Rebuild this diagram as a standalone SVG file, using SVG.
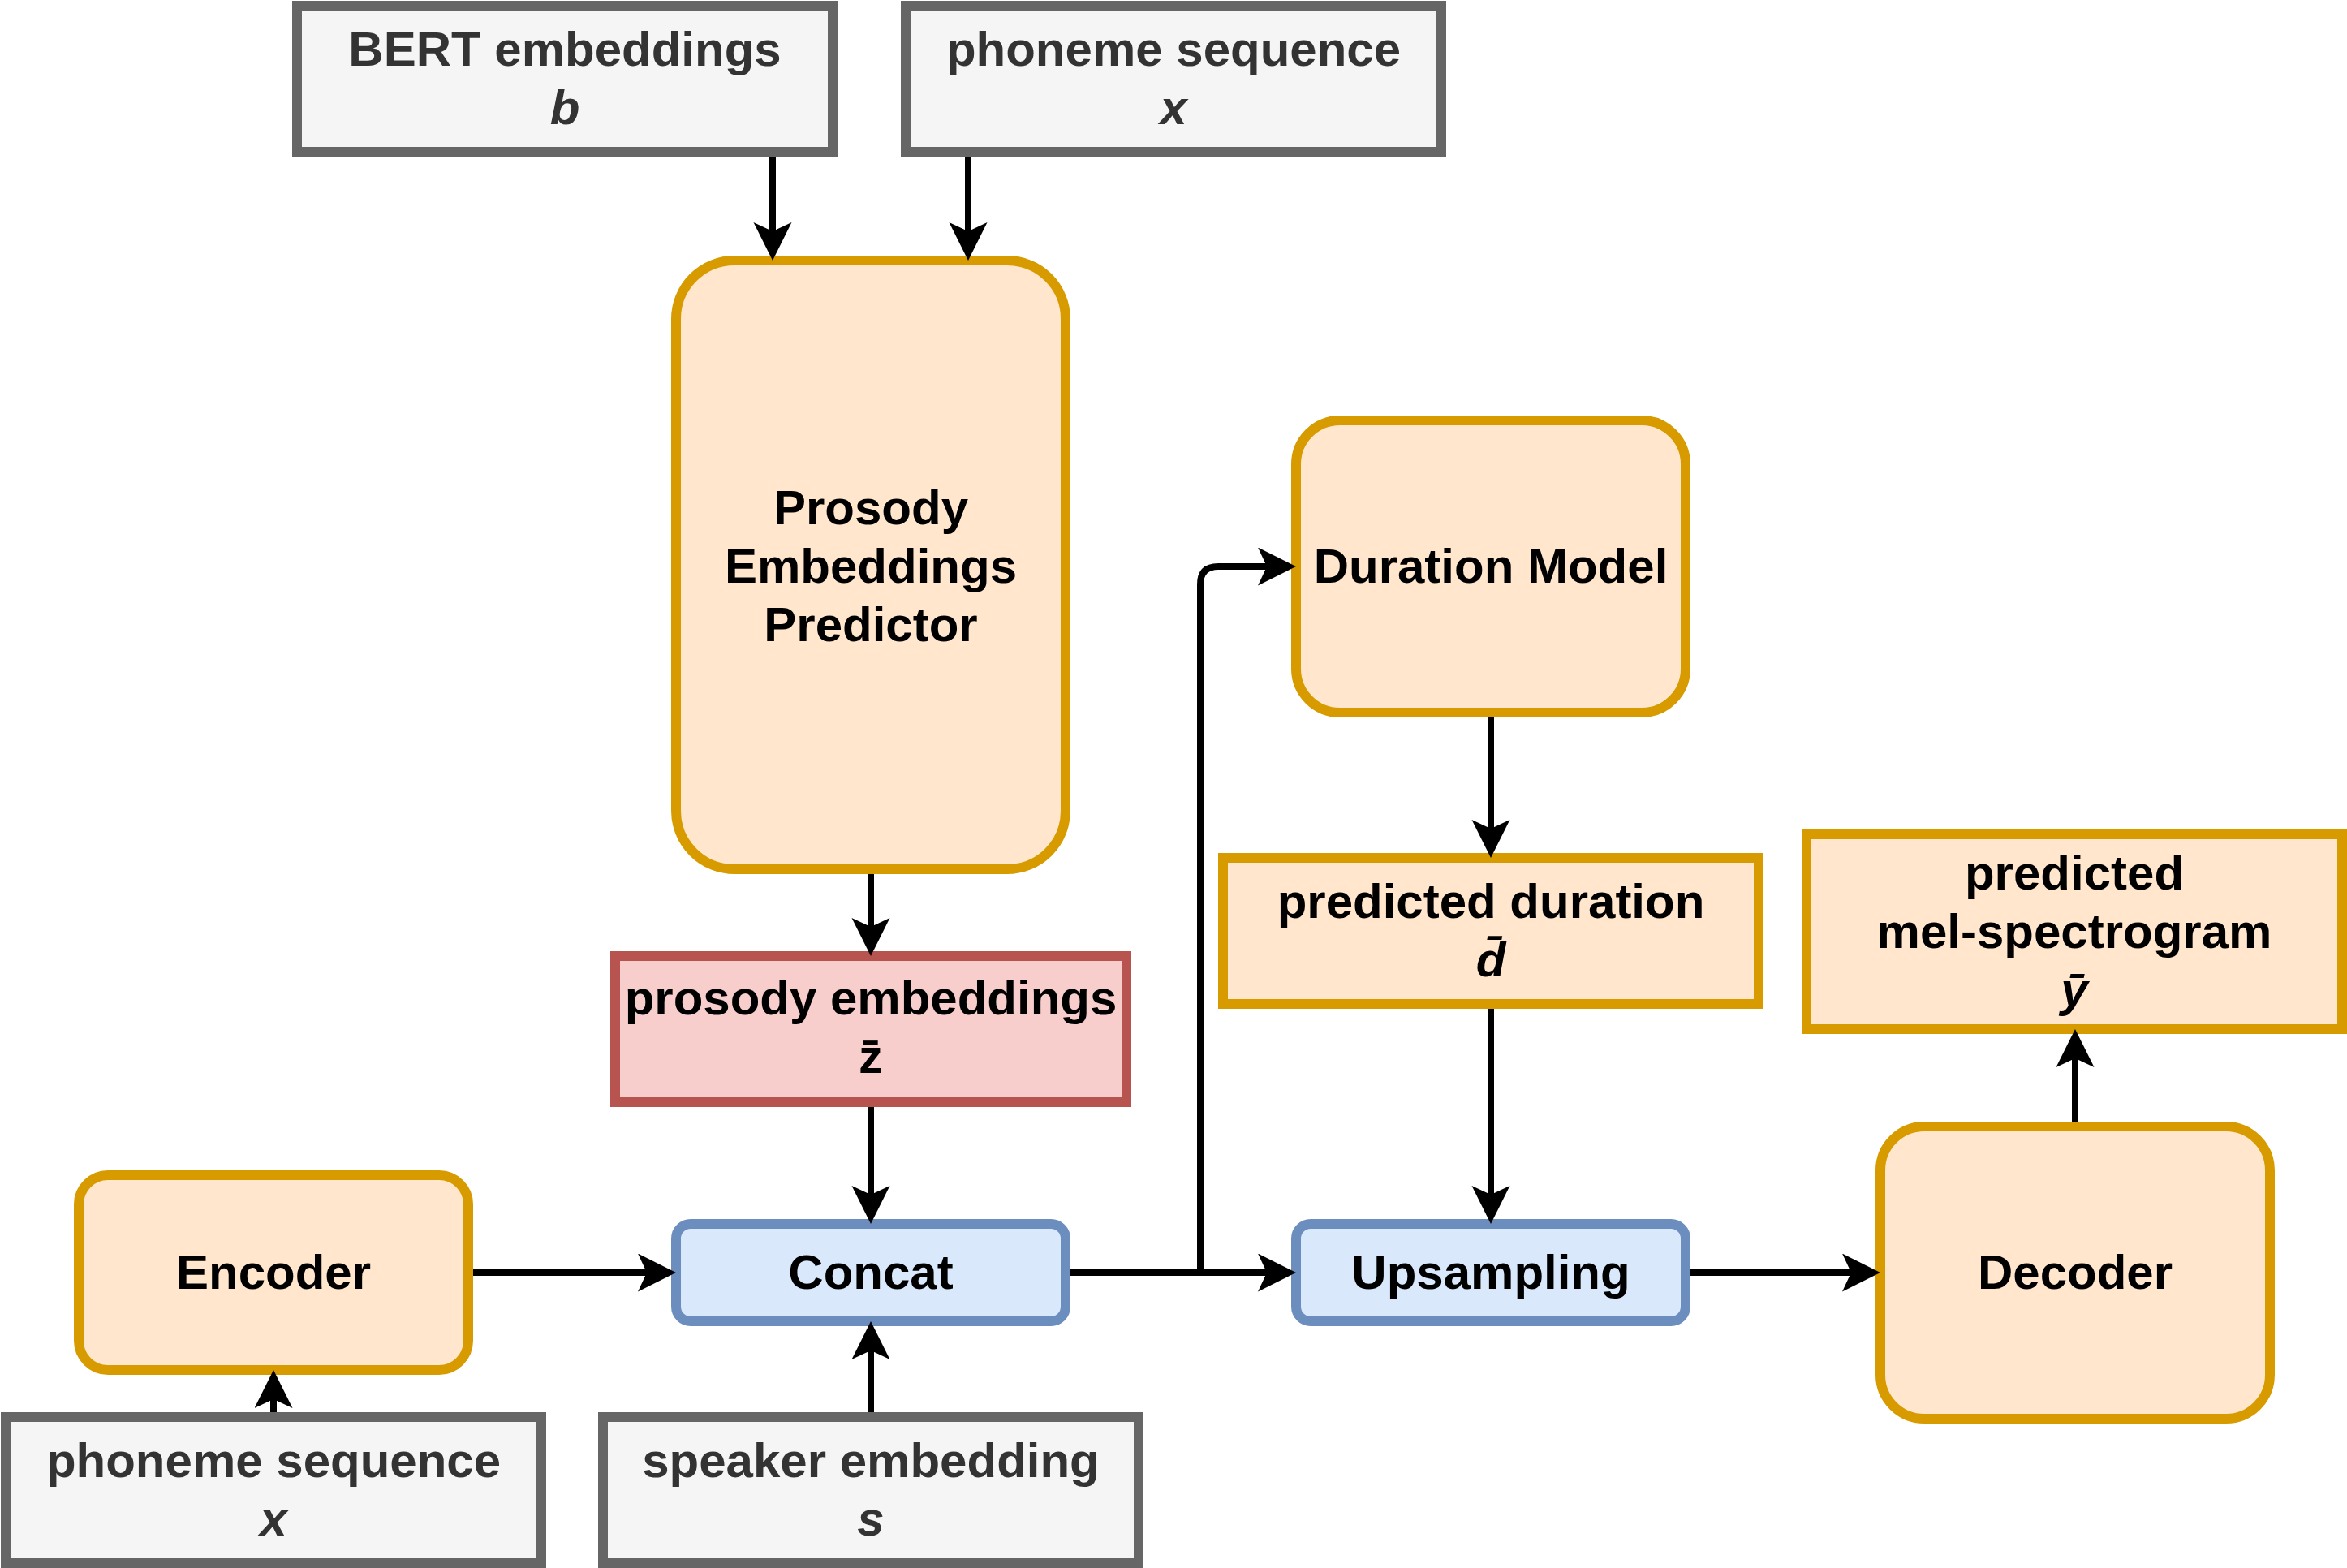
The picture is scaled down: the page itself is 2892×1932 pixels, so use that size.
<svg xmlns="http://www.w3.org/2000/svg" width="2892" height="1932" viewBox="0 0 2892 1932">
<style>
  .orange { fill: #ffe6cc; stroke: #d79b00; stroke-width: 12; }
  .blue { fill: #dae8fc; stroke: #6c8ebf; stroke-width: 12; }
  .red { fill: #f8cecc; stroke: #b85450; stroke-width: 12; }
  .gray { fill: #f5f5f5; stroke: #666666; stroke-width: 12; }
  text { font-family: "Liberation Sans", Arial, Helvetica, sans-serif; font-weight: bold; font-size: 60px; text-anchor: middle; fill: #000000; }
  .gt { fill: #333333; }
  .it { font-style: italic; }
  .edge { fill: none; stroke: #000000; stroke-width: 8; stroke-linejoin: round; }
</style>
<defs>
  <marker id="arrow" markerUnits="userSpaceOnUse" markerWidth="48" markerHeight="48" refX="11" refY="23.5" orient="auto">
    <path d="M0,0 L47,23.5 L0,47 L11,23.5 Z" fill="#000000"/>
  </marker>
</defs>
<rect width="2892" height="1932" fill="#ffffff"/>

<g id="bert">
  <rect class="gray" x="366" y="7" width="660" height="180"/>
  <text class="gt" x="696" y="81">BERT embeddings</text>
  <text class="gt it" x="696" y="153">b</text>
</g>
<g id="phoneme-top">
  <rect class="gray" x="1116" y="7" width="660" height="180"/>
  <text class="gt" x="1446" y="81">phoneme sequence</text>
  <text class="gt it" x="1446" y="153">x</text>
</g>
<g id="prosody-predictor">
  <rect class="orange" x="833" y="321" width="480" height="750" rx="72" ry="72"/>
  <text x="1073" y="646">Prosody</text>
  <text x="1073" y="718">Embeddings</text>
  <text x="1073" y="790">Predictor</text>
</g>
<g id="prosody-embeddings">
  <rect class="red" x="758" y="1178" width="630" height="180"/>
  <text x="1073" y="1250">prosody embeddings</text>
  <text x="1073" y="1322">z̄</text>
</g>
<g id="duration-model">
  <rect class="orange" x="1597" y="518" width="480" height="360" rx="54" ry="54"/>
  <text x="1837" y="718">Duration Model</text>
</g>
<g id="predicted-duration">
  <rect class="orange" x="1507" y="1057" width="660" height="180"/>
  <text x="1837" y="1131">predicted duration</text>
  <text class="it" x="1837" y="1203">d̄</text>
</g>
<g id="predicted-mel">
  <rect class="orange" x="2226" y="1028" width="660" height="240"/>
  <text x="2556" y="1096">predicted</text>
  <text x="2556" y="1168">mel-spectrogram</text>
  <text class="it" x="2556" y="1240">ȳ</text>
</g>
<g id="encoder">
  <rect class="orange" x="97" y="1448" width="480" height="240" rx="36" ry="36"/>
  <text x="337" y="1588">Encoder</text>
</g>
<g id="concat">
  <rect class="blue" x="833" y="1508" width="480" height="120" rx="18" ry="18"/>
  <text x="1073" y="1588">Concat</text>
</g>
<g id="upsampling">
  <rect class="blue" x="1597" y="1508" width="480" height="120" rx="18" ry="18"/>
  <text x="1837" y="1588">Upsampling</text>
</g>
<g id="decoder">
  <rect class="orange" x="2317" y="1388" width="480" height="360" rx="54" ry="54"/>
  <text x="2557" y="1588">Decoder</text>
</g>
<g id="phoneme-bottom">
  <rect class="gray" x="7" y="1746" width="660" height="180"/>
  <text class="gt" x="337" y="1820">phoneme sequence</text>
  <text class="gt it" x="337" y="1892">x</text>
</g>
<g id="speaker-embedding">
  <rect class="gray" x="743" y="1746" width="660" height="180"/>
  <text class="gt" x="1073" y="1820">speaker embedding</text>
  <text class="gt it" x="1073" y="1892">s</text>
</g>

<g id="connectors">
  <path class="edge" d="M952,193 L952,285" marker-end="url(#arrow)"/>
  <path class="edge" d="M1193,193 L1193,285" marker-end="url(#arrow)"/>
  <path class="edge" d="M1073,1077 L1073,1142" marker-end="url(#arrow)"/>
  <path class="edge" d="M1073,1364 L1073,1472" marker-end="url(#arrow)"/>
  <path class="edge" d="M583,1568 L797,1568" marker-end="url(#arrow)"/>
  <path class="edge" d="M337,1740 L337,1724" marker-end="url(#arrow)"/>
  <path class="edge" d="M1073,1740 L1073,1664" marker-end="url(#arrow)"/>
  <path class="edge" d="M1319,1568 L1561,1568" marker-end="url(#arrow)"/>
  <path class="edge" d="M1319,1568 L1479,1568 L1479,720 Q1479,698 1501,698 L1561,698" marker-end="url(#arrow)"/>
  <path class="edge" d="M1837,884 L1837,1021" marker-end="url(#arrow)"/>
  <path class="edge" d="M1837,1243 L1837,1472" marker-end="url(#arrow)"/>
  <path class="edge" d="M2083,1568 L2281,1568" marker-end="url(#arrow)"/>
  <path class="edge" d="M2557,1382 L2557,1304" marker-end="url(#arrow)"/>
</g>
</svg>
